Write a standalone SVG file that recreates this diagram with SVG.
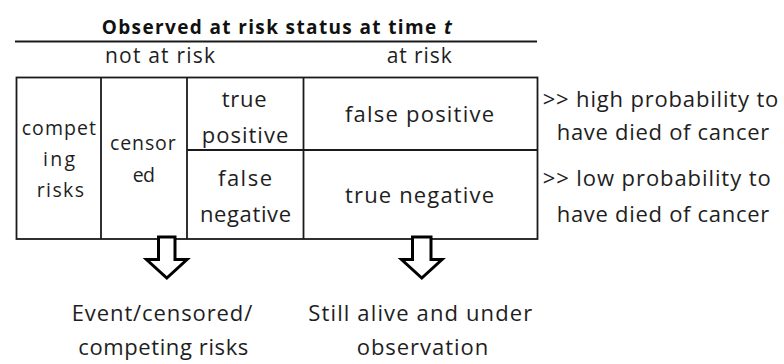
<svg xmlns="http://www.w3.org/2000/svg" width="784" height="364" viewBox="0 0 784 364">
<style>
text{font-family:"Open Sans","Liberation Sans",sans-serif;font-size:22px;fill:#1e1e1e}
.t{font-weight:bold;font-size:19px;fill:#111}
.h{font-size:21px}
.s{font-size:19.5px}
.ln{stroke:#1a1a1a;stroke-width:1.8;fill:none}
.arr{fill:#fff;stroke:#000;stroke-width:3;stroke-linejoin:miter}
</style>
<rect width="784" height="364" fill="#fff"/>
<g id="header">
<text class="t" x="101.7" y="34" textLength="350" lengthAdjust="spacing">Observed at risk status at time <tspan font-style="italic">t</tspan></text>
<line class="ln" x1="15" y1="41.5" x2="537" y2="41.5" stroke-width="2"/>
<text class="h" x="105" y="63" textLength="110" lengthAdjust="spacing">not at risk</text>
<text class="h" x="386.7" y="63" textLength="65" lengthAdjust="spacing">at risk</text>
</g>
<g id="table">
<rect class="ln" x="16.5" y="77.5" width="521" height="161.5"/>
<line class="ln" x1="101" y1="77.5" x2="101" y2="239"/>
<line class="ln" x1="187" y1="77.5" x2="187" y2="239"/>
<line class="ln" x1="303.5" y1="77.5" x2="303.5" y2="239"/>
<line class="ln" x1="187" y1="150" x2="537.5" y2="150"/>
</g>
<g id="competing">
<text class="s" x="21.7" y="135" textLength="74.3" lengthAdjust="spacing">compet</text>
<text class="s" x="43" y="165.5" textLength="32" lengthAdjust="spacing">ing</text>
<text class="s" x="36.7" y="196.5" textLength="47.3" lengthAdjust="spacing">risks</text>
</g>
<g id="censored">
<text class="s" x="110" y="150" textLength="65.7" lengthAdjust="spacing">censor</text>
<text class="s" x="132.7" y="181.7" textLength="22.3" lengthAdjust="spacing">ed</text>
</g>
<g id="true-positive">
<text x="221.7" y="106.7" textLength="45" lengthAdjust="spacing">true</text>
<text x="201.7" y="143" textLength="86.6" lengthAdjust="spacing">positive</text>
</g>
<g id="false-negative">
<text x="218" y="186" textLength="54" lengthAdjust="spacing">false</text>
<text x="200" y="221.7" textLength="91" lengthAdjust="spacing">negative</text>
</g>
<g id="false-positive">
<text x="345" y="121.7" textLength="149" lengthAdjust="spacing">false positive</text>
</g>
<g id="true-negative">
<text x="345" y="203" textLength="149" lengthAdjust="spacing">true negative</text>
</g>
<g id="high-note">
<text x="542.7" y="106.7" textLength="235.6" lengthAdjust="spacing">&gt;&gt; high probability to</text>
<text x="556.7" y="140" textLength="212.6" lengthAdjust="spacing">have died of cancer</text>
</g>
<g id="low-note">
<text x="542.7" y="186" textLength="228" lengthAdjust="spacing">&gt;&gt; low probability to</text>
<text x="556.7" y="221.7" textLength="212.6" lengthAdjust="spacing">have died of cancer</text>
</g>
<g id="connectors">
<path class="arr" d="M158.5,237 V259.5 H146.5 L166.8,278 L187,259.5 H175 V237 Z"/>
<path class="arr" d="M412.5,237 V259.5 H401.5 L421.8,278 L442,259.5 H431 V237 Z"/>
</g>
<g id="event">
<text x="71.7" y="320.7" textLength="180.6" lengthAdjust="spacing">Event/censored/</text>
<text x="78.3" y="355" textLength="170" lengthAdjust="spacing">competing risks</text>
</g>
<g id="alive">
<text x="308.3" y="320.7" textLength="224" lengthAdjust="spacing">Still alive and under</text>
<text x="356.7" y="355" textLength="131.6" lengthAdjust="spacing">observation</text>
</g>
</svg>
